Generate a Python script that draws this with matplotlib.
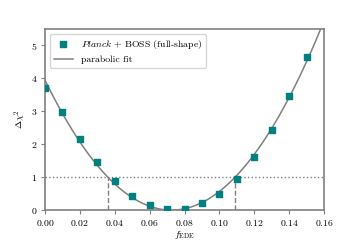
import matplotlib
import numpy as np

matplotlib.use("Agg")
import matplotlib.pyplot as plt  # noqa: E402

plt.rcParams.update({
    "font.family": "serif",
    "font.serif": ["cmr10", "DejaVu Serif"],
    "mathtext.fontset": "cm",
    "axes.formatter.use_mathtext": True,
    "font.size": 7,
})

# profile likelihood points (Planck + BOSS full-shape)
f_ede = [0.00, 0.01, 0.02, 0.03, 0.04, 0.05, 0.06, 0.07,
         0.08, 0.09, 0.10, 0.11, 0.12, 0.13, 0.14, 0.15]
dchi2 = [3.72, 2.98, 2.15, 1.47, 0.87, 0.43, 0.15, 0.02,
         0.02, 0.20, 0.48, 0.93, 1.60, 2.42, 3.48, 4.65]
# 68% interval bounds where the parabola crosses 1
ci_lo, ci_hi = 0.036, 0.109

x = np.array(f_ede)
y = np.array(dchi2)
coef = np.polyfit(x, y, 2)
xs = np.linspace(0, 0.16, 300)

grey = "#808080"
fig = plt.figure(figsize=(3.6, 2.4), dpi=100)
ax = fig.add_axes([0.125, 0.125, 0.775, 0.754])

ax.plot(xs, np.polyval(coef, xs), color=grey, lw=1.1, label="parabolic fit", zorder=2)
ax.scatter(x, y, marker="s", s=16, color="#008080", label=r"$\it{Planck}$ + BOSS (full-shape)", zorder=3)
ax.axhline(1, color=grey, ls=":", lw=1.0, zorder=1)
for c in (ci_lo, ci_hi):
    ax.plot([c, c], [0, 1], color=grey, ls="--", lw=1.0, zorder=1)

ax.set_xlim(0, 0.16)
ax.set_ylim(0, 5.5)
ax.set_xticks(np.arange(0, 0.161, 0.02))
ax.set_yticks(range(0, 6))
ax.set_xlabel(r"$f_{\rm EDE}$", labelpad=1)
ax.set_ylabel(r"$\Delta\chi^2$", labelpad=2)
for s in ax.spines.values():
    s.set_color(grey)
    s.set_linewidth(1.2)
ax.tick_params(color=grey, length=3, pad=2.5)

h, l = ax.get_legend_handles_labels()
ax.legend(h[::-1], l[::-1], loc="upper left", fontsize=7)

fig.savefig("out.png", dpi=100)
